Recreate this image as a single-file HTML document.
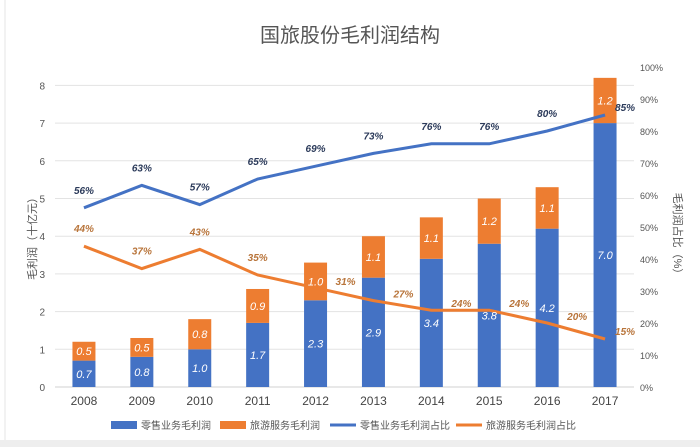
<!DOCTYPE html>
<html><head><meta charset="utf-8"><style>
body{margin:0;background:#fff;}
svg{display:block;font-family:"Liberation Sans","Noto Sans CJK SC",sans-serif;}
</style></head><body>
<svg id="c" width="700" height="447">
<rect x="0" y="0" width="700" height="447" fill="#fff"/>
<rect x="0" y="440" width="700" height="7" fill="#eeeeee"/>
<line x1="5" y1="0" x2="5" y2="440" stroke="#e6e6e6"/>
<text x="350" y="42" text-anchor="middle" font-size="20" fill="#555">国旅股份毛利润结构</text>
<g id="grid"></g><g id="bars"></g><g id="lines"></g><g id="labels"></g><g id="legend"></g>
<text transform="translate(36,236) rotate(-90)" text-anchor="middle" font-size="11" fill="#555">毛利润（十亿元）</text>
<text transform="translate(674,236) rotate(90)" text-anchor="middle" font-size="11" fill="#555">毛利润占比（%）</text>
</svg>
<script>
const years=["2008","2009","2010","2011","2012","2013","2014","2015","2016","2017"];
const retail=[0.7,0.8,1.0,1.7,2.3,2.9,3.4,3.8,4.2,7.0];
const travel=[0.5,0.5,0.8,0.9,1.0,1.1,1.1,1.2,1.1,1.2];
const retailPct=[56,63,57,65,69,73,76,76,80,85];
const travelPct=[44,37,43,35,31,27,24,24,20,15];
const leftTicks=[0,1,2,3,4,5,6,7,8];
const rightTicks=[0,10,20,30,40,50,60,70,80,90,100];
const NS="http://www.w3.org/2000/svg";
const BLUE="#4472c4",ORANGE="#ed7d31";
const x0=55,x1=634,yb=387;
const xs=i=>x0+(x1-x0)/years.length*(i+0.5);
const yL=v=>yb-v*37.7;
const yR=p=>yb-p*3.2;
function mk(tag,parent,attrs,text){const e=document.createElementNS(NS,tag);for(const k in attrs)e.setAttribute(k,attrs[k]);if(text!==undefined)e.textContent=text;document.getElementById(parent).appendChild(e);return e;}
leftTicks.forEach(t=>{
 const g=mk('line','grid',{x1:x0,x2:x1,y1:yL(t),y2:yL(t),stroke:t===0?'#d0d0d0':'#e3e3e3'});
 
 
 const l=mk('text','grid',{x:45,y:yL(t)+4,'text-anchor':'end','font-size':10,fill:'#555'},t);
 
 
});
rightTicks.forEach(t=>{
 const l=mk('text','grid',{x:640,y:yR(t)+4,'font-size':9,fill:'#555'},t+'%');
 
 
});
const bw=23;
years.forEach((yr,i)=>{
 const cx=xs(i);
 const b1=mk('rect','bars',{x:cx-bw/2,y:yL(retail[i]),width:bw,height:yL(0)-yL(retail[i]),fill:BLUE});
 
 
 const b2=mk('rect','bars',{x:cx-bw/2,y:yL(retail[i]+travel[i]),width:bw,height:yL(retail[i])-yL(retail[i]+travel[i]),fill:ORANGE});
 
 
 const t1=mk('text','labels',{x:cx,y:(yL(0)+yL(retail[i]))/2+4,'text-anchor':'middle','font-size':11,'font-style':'italic',fill:'#fff'},retail[i].toFixed(1));
 
 
 const t2=mk('text','labels',{x:cx,y:(yL(retail[i])+yL(retail[i]+travel[i]))/2+4,'text-anchor':'middle','font-size':11,'font-style':'italic',fill:'#fff'},travel[i].toFixed(1));
 
 
 const xl=mk('text','labels',{x:cx,y:405,'text-anchor':'middle','font-size':12,fill:'#444'},yr);
 
 
});
function line(arr,col,name,tcol,side){
 const p=mk('polyline','lines',{points:arr.map((v,i)=>xs(i)+','+yR(v)).join(' '),fill:'none',stroke:col,'stroke-width':3});
 
 
 arr.forEach((v,i)=>{
  const last=i===arr.length-1;
  const right=last||(side&&i>=4);
  const t=mk('text','labels',{x:right?xs(i)+(last?20:30):xs(i),y:right?yR(v)-(last?4:3):yR(v)-14,'text-anchor':'middle','font-size':10,'font-style':'italic','font-weight':'bold',fill:tcol},v+'%');
  
  
 });
}
line(retailPct,BLUE,'retail-share-line','#2b3a5a',false);
line(travelPct,ORANGE,'travel-share-line','#b8743a',true);
const leg=[["零售业务毛利润",BLUE,111,8],["旅游服务毛利润",ORANGE,220,8],["零售业务毛利润占比",BLUE,330,3],["旅游服务毛利润占比",ORANGE,456,3]];
leg.forEach(l=>{
 const r=mk('rect','legend',{x:l[2],y:425-l[3]/2,width:26,height:l[3],fill:l[1]});
 
 
 const t=mk('text','legend',{x:l[2]+30,y:429,'font-size':10,fill:'#555'},l[0]);
 
 
});
</script>
</body></html>
